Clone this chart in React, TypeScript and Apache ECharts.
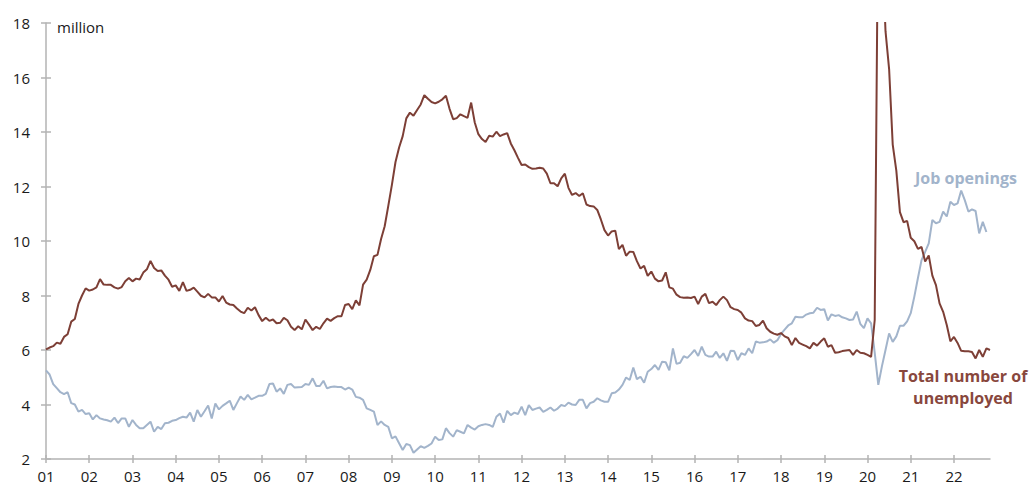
import React, { useEffect, useRef } from "react";
import * as echarts from "echarts";

// Monthly data, Jan 2001 onwards (million)
const startYear = 2001;

const unemployed: number[] = [
  // 2001
  6.02, 6.09, 6.14, 6.27, 6.23, 6.48, 6.58, 7.04, 7.14, 7.69, 8.0, 8.26,
  // 2002
  8.18, 8.22, 8.3, 8.6, 8.4, 8.39, 8.39, 8.3, 8.25, 8.31, 8.52, 8.64,
  // 2003
  8.52, 8.62, 8.59, 8.84, 8.96, 9.27, 9.01, 8.9, 8.92, 8.73, 8.58, 8.32,
  // 2004
  8.37, 8.17, 8.49, 8.17, 8.21, 8.29, 8.14, 7.99, 7.93, 8.06, 7.93, 7.93,
  // 2005
  7.78, 7.98, 7.74, 7.67, 7.65, 7.52, 7.41, 7.35, 7.55, 7.45, 7.57, 7.28,
  // 2006
  7.06, 7.18, 7.07, 7.12, 6.98, 7.0, 7.18, 7.09, 6.85, 6.73, 6.87, 6.76,
  // 2007
  7.12, 6.93, 6.73, 6.85, 6.77, 6.98, 7.15, 7.07, 7.17, 7.24, 7.24, 7.65,
  // 2008
  7.69, 7.5, 7.82, 7.64, 8.4, 8.58, 8.94, 9.44, 9.49, 10.07, 10.54, 11.29,
  // 2009
  12.06, 12.9, 13.43, 13.85, 14.5, 14.71, 14.6, 14.81, 15.01, 15.35, 15.22, 15.1,
  // 2010
  15.05, 15.11, 15.2, 15.33, 14.85, 14.47, 14.51, 14.65, 14.58, 14.52, 15.08, 14.35,
  // 2011
  13.92, 13.74, 13.63, 13.86, 13.83, 14.01, 13.85, 13.91, 13.96, 13.58, 13.33, 13.05,
  // 2012
  12.79, 12.81, 12.71, 12.65, 12.66, 12.69, 12.66, 12.47, 12.12, 12.12, 12.01, 12.3,
  // 2013
  12.47, 11.95, 11.69, 11.76, 11.65, 11.75, 11.34, 11.28, 11.27, 11.14, 10.79, 10.4,
  // 2014
  10.2, 10.35, 10.38, 9.7, 9.86, 9.46, 9.61, 9.6, 9.26, 8.99, 9.09, 8.72,
  // 2015
  8.88, 8.62, 8.52, 8.55, 8.85, 8.3, 8.25, 8.03, 7.94, 7.92, 7.93, 7.91,
  // 2016
  7.96, 7.69, 7.96, 8.06, 7.72, 7.77, 7.65, 7.83, 7.96, 7.83, 7.57, 7.5,
  // 2017
  7.47, 7.37, 7.16, 7.08, 7.06, 6.88, 6.92, 7.08, 6.8, 6.67, 6.6, 6.56,
  // 2018
  6.62, 6.5, 6.44, 6.18, 6.44, 6.26, 6.2, 6.14, 6.06, 6.26, 6.16, 6.31,
  // 2019
  6.43, 6.12, 6.18, 5.9, 5.92, 5.96, 5.98, 6.0, 5.82, 6.0, 5.9, 5.88,
  // 2020
  5.82, 5.75, 7.1, 23.08, 20.99, 17.7, 16.31, 13.54, 12.58, 11.06, 10.69, 10.74,
  // 2021
  10.12, 9.99, 9.71, 9.78, 9.25, 9.47, 8.73, 8.38, 7.71, 7.4, 6.92, 6.32,
  // 2022
  6.48, 6.26, 5.97, 5.95, 5.95, 5.93, 5.69, 6.0, 5.75, 6.06, 6.0,
];

const jobOpenings: number[] = [
  // 2001
  5.25, 5.1, 4.75, 4.6, 4.45, 4.38, 4.45, 4.05, 4.0, 3.74, 3.8, 3.65,
  // 2002
  3.68, 3.45, 3.61, 3.49, 3.45, 3.42, 3.37, 3.52, 3.32, 3.49, 3.49, 3.18,
  // 2003
  3.43, 3.25, 3.13, 3.13, 3.25, 3.37, 3.0, 3.18, 3.1, 3.31, 3.33, 3.4,
  // 2004
  3.43, 3.5, 3.55, 3.52, 3.7, 3.37, 3.8, 3.55, 3.75, 3.96, 3.49, 4.04,
  // 2005
  3.82, 3.95, 4.04, 4.14, 3.8, 4.05, 4.29, 4.17, 4.35, 4.19, 4.25, 4.32,
  // 2006
  4.32, 4.39, 4.75, 4.77, 4.47, 4.59, 4.39, 4.72, 4.75, 4.62, 4.63, 4.64,
  // 2007
  4.75, 4.72, 4.96, 4.68, 4.68, 4.87, 4.59, 4.64, 4.66, 4.64, 4.64, 4.55,
  // 2008
  4.62, 4.55, 4.28, 4.25, 4.17, 3.86, 3.8, 3.74, 3.25, 3.38, 3.25, 3.18,
  // 2009
  2.76, 2.83, 2.58, 2.33, 2.55, 2.51, 2.23, 2.35, 2.47, 2.41, 2.48, 2.57,
  // 2010
  2.82, 2.7, 2.72, 3.13, 2.95, 2.82, 3.06, 3.0, 2.94, 3.25, 3.15, 3.08,
  // 2011
  3.2, 3.25, 3.28, 3.25, 3.18, 3.55, 3.67, 3.33, 3.77, 3.61, 3.7, 3.65,
  // 2012
  3.92, 3.61, 3.98, 3.8, 3.85, 3.89, 3.73, 3.8, 3.89, 3.77, 3.85, 3.98,
  // 2013
  3.94, 4.07, 4.0, 3.98, 4.17, 4.17, 3.86, 4.05, 4.1, 4.23, 4.15, 4.1,
  // 2014
  4.1, 4.41, 4.44, 4.55, 4.72, 4.99, 4.9, 5.36, 4.93, 5.02, 4.8, 5.2,
  // 2015
  5.3, 5.45, 5.27, 5.57, 5.55, 5.25, 6.06, 5.49, 5.53, 5.77, 5.71, 5.85,
  // 2016
  6.0, 5.78, 6.12, 5.82, 5.76, 5.76, 5.94, 5.71, 5.88, 5.6, 5.97, 5.96,
  // 2017
  5.63, 5.88, 5.82, 6.06, 5.88, 6.31, 6.27, 6.28, 6.31, 6.39, 6.27, 6.36,
  // 2018
  6.59, 6.75, 6.9, 6.98, 7.22, 7.2, 7.2, 7.3, 7.35, 7.37, 7.55, 7.47,
  // 2019
  7.5, 7.08, 7.31, 7.25, 7.28, 7.2, 7.16, 7.1, 7.12, 7.41, 6.96, 6.8,
  // 2020
  7.16, 6.98, 5.9, 4.72, 5.4, 6.0, 6.61, 6.3, 6.5, 6.89, 6.89, 7.05,
  // 2021
  7.35, 7.96, 8.64, 9.3, 9.6, 9.91, 10.77, 10.65, 10.7, 11.08, 10.9, 11.44,
  // 2022
  11.32, 11.38, 11.85, 11.5, 11.08, 11.16, 11.1, 10.28, 10.7, 10.33,
];

const yTicks = { min: 2, max: 18, interval: 2 };
const unitLabel = "million";
const openingsLabel = "Job openings";
const unemployedLabel = "Total number of\nunemployed";

const BROWN = "#7d3f36";
const BLUE = "#a2b4cb";
const AXIS = "#b3b3b3";
const FONT = "'Open Sans', 'Noto Sans', sans-serif";

export default function App() {
  const ref = useRef<HTMLDivElement>(null);

  useEffect(() => {
    if (!ref.current) return;
    const chart = echarts.init(ref.current, undefined, { renderer: "svg" });

    const n = Math.max(unemployed.length, jobOpenings.length);
    const categories: string[] = [];
    for (let i = 0; i < n; i++) {
      const y = startYear + Math.floor(i / 12);
      const m = (i % 12) + 1;
      categories.push(`${y}-${m < 10 ? "0" + m : m}`);
    }
    const isYearStart = (idx: number) => idx % 12 === 0;

    const baseX = {
      type: "category" as const,
      data: categories,
      boundaryGap: false,
      position: "bottom" as const,
    };
    const baseY = {
      type: "value" as const,
      min: yTicks.min,
      max: yTicks.max,
      interval: yTicks.interval,
      splitLine: { show: false },
    };

    chart.setOption({
      animation: false,
      grid: { left: 46, right: 39, top: 23, bottom: 32, containLabel: false },
      xAxis: [
        {
          ...baseX,
          axisLine: { show: true, lineStyle: { color: AXIS, width: 1.5 } },
          axisTick: {
            show: true,
            interval: (idx: number) => isYearStart(idx),
            length: 4,
            lineStyle: { color: AXIS, width: 1.5 },
          },
          axisLabel: {
            interval: (idx: number) => isYearStart(idx),
            formatter: (v: string) => v.substring(2, 4),
            color: "#1a1a1a",
            fontSize: 15,
            fontFamily: FONT,
            margin: 9,
          },
        },
        {
          ...baseX,
          axisLine: { show: false },
          axisTick: {
            show: true,
            inside: true,
            interval: (idx: number) => isYearStart(idx),
            length: 4,
            lineStyle: { color: AXIS, width: 1.5 },
          },
          axisLabel: { show: false },
        },
      ],
      yAxis: [
        {
          ...baseY,
          axisLine: { show: true, lineStyle: { color: AXIS, width: 1.5 } },
          axisTick: { show: true, length: 5, lineStyle: { color: AXIS, width: 1.5 } },
          axisLabel: {
            color: "#1a1a1a",
            fontSize: 15,
            fontFamily: FONT,
            margin: 16,
          },
        },
        {
          ...baseY,
          position: "left",
          axisLine: { show: false },
          axisTick: { show: true, inside: true, length: 5, lineStyle: { color: AXIS, width: 1.5 } },
          axisLabel: { show: false },
        },
      ],
      series: [
        {
          name: "Job openings",
          type: "line",
          xAxisIndex: 0,
          yAxisIndex: 0,
          data: jobOpenings,
          showSymbol: false,
          symbol: "none",
          clip: true,
          lineStyle: { color: BLUE, width: 2 },
          itemStyle: { color: BLUE },
        },
        {
          name: "Total number of unemployed",
          type: "line",
          xAxisIndex: 0,
          yAxisIndex: 0,
          data: unemployed,
          showSymbol: false,
          symbol: "none",
          clip: true,
          lineStyle: { color: BROWN, width: 2 },
          itemStyle: { color: BROWN },
        },
      ],
      graphic: [
        {
          type: "text",
          x: 57,
          y: 27,
          style: {
            text: unitLabel,
            fill: "#1a1a1a",
            font: `15px ${FONT}`,
            textVerticalAlign: "middle",
          },
        },
        {
          type: "text",
          x: 966,
          y: 178,
          style: {
            text: openingsLabel,
            fill: BLUE,
            font: `bold 16px ${FONT}`,
            textAlign: "center",
            textVerticalAlign: "middle",
          },
        },
        {
          type: "text",
          x: 963,
          y: 387,
          style: {
            text: unemployedLabel,
            fill: "#88473d",
            font: `bold 16px ${FONT}`,
            lineHeight: 22,
            textAlign: "center",
            textVerticalAlign: "middle",
          },
        },
      ],
    });

    return () => chart.dispose();
  }, []);

  return (
    <div
      ref={ref}
      style={{ position: "absolute", left: 0, top: 0, width: 1029, height: 491 }}
    />
  );
}
